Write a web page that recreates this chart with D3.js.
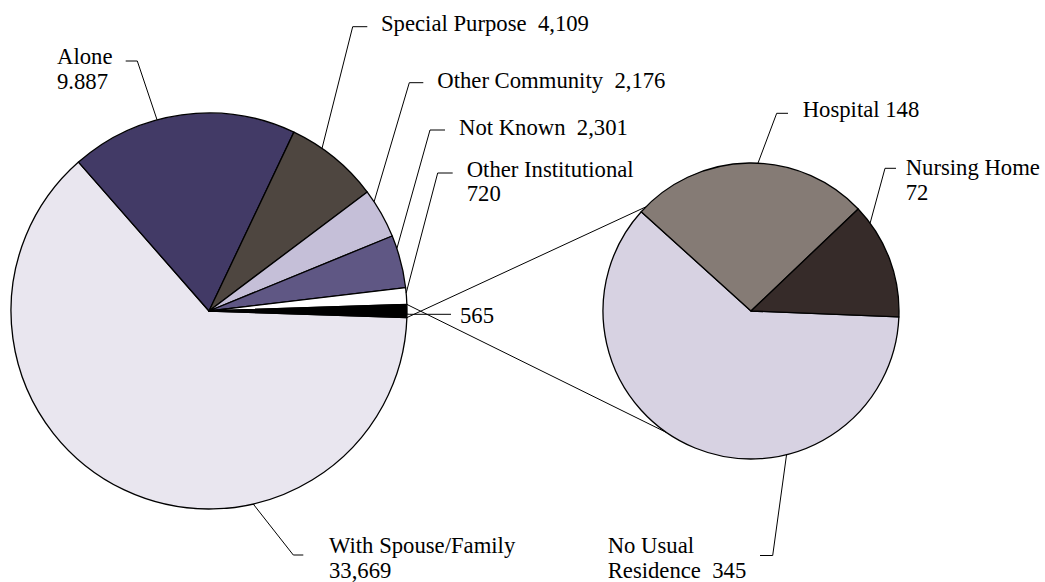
<!DOCTYPE html>
<html>
<head>
<meta charset="utf-8">
<script src="https://cdn.jsdelivr.net/npm/d3@7"></script>
<style>
  html, body { margin: 0; padding: 0; background: #ffffff; }
  svg { display: block; }
</style>
</head>
<body>
<svg id="chart" width="1045" height="582" font-family="'Liberation Serif', 'DejaVu Serif', serif" font-size="22.7"></svg>
<script>
// Living arrangements: main pie, with the last slice broken out into a second pie
const categories = ["With Spouse/Family", "Alone", "Special Purpose", "Other Community", "Not Known", "Other Institutional", "Other"];
const values = [33669, 9887, 4109, 2176, 2301, 720, 565];
const valueLabels = ["33,669", "9.887", "4,109", "2,176", "2,301", "720", "565"];

const subCategories = ["No Usual Residence", "Hospital", "Nursing Home"];
const subValues = [345, 148, 72];
const subValueLabels = ["345", "148", "72"];

// Label text (line breaks as drawn)
const labelText = [
  "With Spouse/Family\n33,669",
  "Alone\n9.887",
  "Special Purpose  4,109",
  "Other Community  2,176",
  "Not Known  2,301",
  "Other Institutional\n720",
  "565"
];
const subLabelText = [
  "No Usual\nResidence  345",
  "Hospital 148",
  "Nursing Home\n72"
];

const mainColors = ["#e9e6ef", "#423a66", "#4e4640", "#c5bfd8", "#5f5784", "#ffffff", "#000000"];
const subColors = ["#d7d2e2", "#857b75", "#362b29"];

// Geometry
const mainC = { x: 209, y: 311, r: 198 };
const subC = { x: 751, y: 311, r: 148 };
const subRotation = 2.3;                 // degrees the second pie is turned below horizontal
const connectorAngles = [135.3, -124.8]; // where the connector lines meet the second pie
const lineH = 24.5;

// Label layout: text anchor, leader tail, leader elbow, attachment angle (deg, CCW from east)
const mainLayout = [
  { tx: 329,   ty: 553,   tail: [303.3, 555],   elbow: [293.3, 555],   ang: -77.1 },
  { tx: 57,    ty: 64,    tail: [125.7, 61],    elbow: [137.3, 61],    ang: 105.2 },
  { tx: 381,   ty: 30.5,  tail: [367.3, 26.7],  elbow: [352.7, 26.7],  ang: 55.2 },
  { tx: 437.3, ty: 88.3,  tail: [423.3, 82.7],  elbow: [409.3, 82.7],  ang: 33.5 },
  { tx: 459,   ty: 135,   tail: [445, 130],     elbow: [430, 130],     ang: 18.4 },
  { tx: 466.7, ty: 176.7, tail: [452.7, 173],   elbow: [437.7, 173],   ang: 5.2 },
  { tx: 460,   ty: 322.7, tail: [451, 314.3],   elbow: [409.3, 314.3], ang: -0.9 }
];
const subLayout = [
  { tx: 607.7, ty: 553,   tail: [760, 555.5],   elbow: [772.7, 555.5], ang: -76.1 },
  { tx: 802.7, ty: 117,   tail: [788, 113.3],   elbow: [776.7, 113.3], ang: 87.3 },
  { tx: 905.7, ty: 175,   tail: [896, 168.3],   elbow: [885, 168.3],   ang: 36.4 }
];

const svg = d3.select("#chart");
const rad = d => d * Math.PI / 180;
// point on a circle from a math angle (CCW from east)
const onCircle = (c, deg) => [c.x + c.r * Math.cos(rad(deg)), c.y - c.r * Math.sin(rad(deg))];

// Main pie: the broken-out slice is centred on the horizontal, at the right
const total = d3.sum(values);
const halfOther = Math.PI * values[values.length - 1] / total;
const mainStart = Math.PI / 2 + halfOther - 2 * Math.PI;
const mainPie = d3.pie().sort(null).value(d => d).startAngle(mainStart).endAngle(mainStart + 2 * Math.PI);
const mainArc = d3.arc().innerRadius(0).outerRadius(mainC.r);

// Second pie
const subStart = Math.PI / 2 + rad(subRotation) - 2 * Math.PI;
const subPie = d3.pie().sort(null).value(d => d).startAngle(subStart).endAngle(subStart + 2 * Math.PI);
const subArc = d3.arc().innerRadius(0).outerRadius(subC.r);

const mainArcs = mainPie(values);
const subArcs = subPie(subValues);

// Connector lines between the broken-out slice and the second pie
const otherArc = mainArcs[mainArcs.length - 1];
const edgeTop = d3.pointRadial(otherArc.endAngle, mainC.r);
const edgeBot = d3.pointRadial(otherArc.startAngle, mainC.r);
const conTop = onCircle(subC, connectorAngles[0]);
const conBot = onCircle(subC, connectorAngles[1]);
svg.append("g").selectAll("line")
  .data([[edgeTop, conTop], [edgeBot, conBot]])
  .join("line")
  .attr("x1", d => mainC.x + d[0][0]).attr("y1", d => mainC.y + d[0][1])
  .attr("x2", d => d[1][0]).attr("y2", d => d[1][1])
  .attr("stroke", "#000").attr("stroke-width", 1);

// Slices
svg.append("g").attr("transform", `translate(${mainC.x},${mainC.y})`)
  .selectAll("path").data(mainArcs).join("path")
  .attr("d", mainArc)
  .attr("fill", (d, i) => mainColors[i])
  .attr("stroke", "#000").attr("stroke-width", 1.3).attr("stroke-linejoin", "round");

svg.append("g").attr("transform", `translate(${subC.x},${subC.y})`)
  .selectAll("path").data(subArcs).join("path")
  .attr("d", subArc)
  .attr("fill", (d, i) => subColors[i])
  .attr("stroke", "#000").attr("stroke-width", 1.3).attr("stroke-linejoin", "round");

// Leaders and labels
function drawLabels(layout, texts, c) {
  const g = svg.append("g");
  g.selectAll("path").data(layout).join("path")
    .attr("d", d => {
      const p = onCircle(c, d.ang);
      return d3.line()([d.tail, d.elbow, p]);
    })
    .attr("fill", "none").attr("stroke", "#000").attr("stroke-width", 1);
  g.selectAll("text").data(layout).join("text")
    .attr("x", d => d.tx).attr("y", d => d.ty)
    .attr("fill", "#000")
    .style("white-space", "pre")
    .each(function (d, i) {
      const t = d3.select(this);
      texts[i].split("\n").forEach((line, k) => {
        t.append("tspan").attr("x", d.tx).attr("y", d.ty + k * lineH).text(line);
      });
    });
}
drawLabels(mainLayout, labelText, mainC);
drawLabels(subLayout, subLabelText, subC);
</script>
</body>
</html>
